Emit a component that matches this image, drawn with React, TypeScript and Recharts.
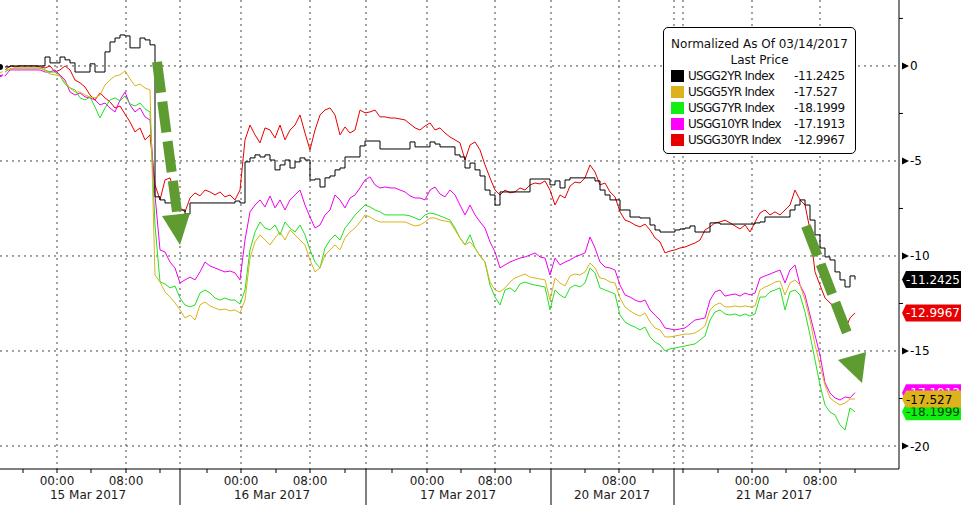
import React from 'react';
import { LineChart, Line, XAxis, YAxis, CartesianGrid, ReferenceDot, Legend } from 'recharts';

const FONT = 'DejaVu Sans';

// Series metadata
const SERIES_KEYS = ['usgg2yr', 'usgg5yr', 'usgg7yr', 'usgg10yr', 'usgg30yr'];
const SERIES_NAMES = ['USGG2YR Index', 'USGG5YR Index', 'USGG7YR Index', 'USGG10YR Index', 'USGG30YR Index'];
const SERIES_COLORS = ['#000000', '#d8b41c', '#22e022', '#ee00ee', '#e80000'];
const SWATCH_COLORS = ['#000000', '#dcb31c', '#11ee11', '#ff00ff', '#e80000'];
const TAG_TEXT_COLORS = ['#ffffff', '#000000', '#004400', '#ffffff', '#ffffff'];

// Normalized values (bp), sampled on the compressed session-time grid
const usgg2yr = [
  -0.05, -0.05, 0, 0, 0, 0, 0, 0, 0, 0.47,
  0.16, 0.16, 0.47, 0.32, 0.16, -0.32, -0.32, -0.32, 0.11, -0.32,
  -0.32, 0.74, 1.26, 1.47, 1.63, 1.58, 0.95, 0.95, 1.47, 1.37,
  1.11, -6.89, -7.05, -7.21, -7.21, -7.21, -7.58, -7.79, -7.21, -7.21,
  -7.21, -7.21, -7.21, -7.21, -7.21, -7.21, -7.21, -7.11, -7.21, -5.05,
  -4.84, -4.68, -4.79, -4.68, -4.95, -5.47, -5.21, -4.95, -5.37, -5.05,
  -4.84, -4.95, -6.0, -5.95, -6.37, -5.89, -5.79, -5.47, -5.37, -4.79,
  -4.79, -4.79, -4.21, -3.95, -3.95, -3.95, -4.37, -4.37, -4.37, -4.37,
  -4.37, -4.37, -4.0, -4.26, -4.26, -4.26, -4.0, -4.11, -4.26, -4.26,
  -4.26, -4.68, -4.79, -5.37, -5.11, -5.47, -5.79, -6.53, -6.79, -7.32,
  -6.63, -6.63, -6.63, -6.63, -6.63, -6.63, -5.95, -5.95, -5.95, -5.95,
  -6.26, -6.05, -6.42, -6.0, -5.89, -5.89, -5.89, -5.89, -5.89, -6.05,
  -6.53, -6.79, -7.05, -7.05, -7.58, -7.58, -7.95, -7.95, -8.0, -8.0,
  -8.37, -8.63, -8.74, -8.74, -8.74, -8.63, -8.58, -8.53, -8.42, -8.74,
  -8.74, -8.74, -8.26, -8.26, -8.32, -8.32, -8.32, -8.32, -8.32, -8.32,
  -8.32, -8.26, -8.21, -7.95, -7.95, -7.95, -7.95, -7.95, -7.58, -7.32,
  -7.05, -7.32, -8.11, -8.89, -9.58, -10.05, -10.21, -10.84, -11.26, -11.63,
  -11.05, -11.2425,
];

const usgg5yr = [
  -0.21, -0.21, -0.16, -0.11, -0.11, -0.11, -0.11, -0.11, -0.11, -0.26,
  -0.42, -0.47, -0.53, -0.84, -1.16, -1.37, -1.37, -1.53, -1.63, -1.68,
  -1.53, -1.0, -0.74, -0.53, -0.47, -0.26, -0.68, -1.05, -0.95, -1.16,
  -1.26, -11.0, -11.37, -11.89, -12.16, -12.47, -12.84, -13.26, -13.11, -13.37,
  -12.58, -12.42, -12.63, -12.74, -12.84, -12.79, -12.89, -12.84, -13.0, -12.32,
  -10.11, -9.26, -8.89, -9.16, -9.42, -9.05, -8.74, -9.16, -8.63, -8.89,
  -9.16, -9.42, -10.21, -10.84, -10.63, -9.95, -9.68, -9.42, -9.68, -9.05,
  -8.74, -8.53, -8.21, -7.84, -7.95, -8.11, -8.21, -8.21, -8.21, -8.21,
  -8.21, -8.21, -8.32, -8.42, -8.37, -8.21, -8.0, -8.0, -8.11, -8.16,
  -8.21, -8.63, -9.05, -9.42, -9.26, -9.58, -10.0, -10.32, -11.37, -11.79,
  -11.89, -11.68, -11.37, -11.16, -11.05, -10.95, -11.11, -11.16, -11.21, -11.26,
  -12.32, -11.16, -11.42, -11.58, -11.05, -10.95, -11.0, -10.84, -10.37, -10.63,
  -11.16, -11.21, -11.37, -11.42, -12.21, -12.68, -12.89, -13.05, -13.16, -13.0,
  -13.47, -13.79, -13.89, -14.26, -14.26, -14.21, -14.16, -14.11, -14.11, -14.05,
  -13.89, -13.68, -12.84, -12.58, -12.47, -12.68, -12.68, -12.63, -12.68, -12.63,
  -12.68, -12.63, -11.79, -11.63, -11.53, -11.37, -11.32, -12.05, -11.42, -11.26,
  -11.53, -12.32, -13.37, -14.68, -15.74, -16.79, -17.47, -17.68, -17.84, -17.74,
  -17.53, -17.527,
];

const usgg7yr = [
  -0.21, -0.32, -0.16, -0.11, -0.11, -0.11, -0.11, -0.11, -0.11, -0.21,
  -0.32, -0.32, -0.53, -0.95, -1.16, -1.26, -1.68, -1.79, -1.63, -2.16,
  -2.74, -2.21, -1.79, -1.68, -1.84, -1.58, -2.0, -2.11, -1.95, -2.26,
  -2.42, -8.37, -11.37, -11.47, -11.68, -11.58, -12.21, -12.58, -12.68, -12.58,
  -11.95, -11.79, -11.95, -12.21, -12.32, -12.21, -12.32, -12.32, -12.53, -11.79,
  -9.68, -8.74, -8.21, -8.53, -8.63, -8.37, -8.89, -8.21, -8.53, -8.74,
  -8.37, -8.89, -9.68, -10.32, -10.63, -9.58, -9.16, -8.89, -9.16, -8.53,
  -8.21, -7.84, -7.58, -7.32, -7.42, -7.58, -7.68, -7.84, -7.84, -7.84,
  -7.84, -7.84, -7.89, -8.0, -8.11, -7.84, -7.74, -7.79, -7.89, -8.0,
  -8.11, -8.53, -9.05, -9.42, -8.89, -9.58, -10.0, -10.32, -11.53, -12.16,
  -12.58, -11.79, -11.68, -11.89, -11.47, -11.37, -11.47, -11.53, -11.58, -11.63,
  -12.84, -11.79, -12.05, -12.21, -11.68, -11.53, -11.63, -11.42, -10.63, -10.89,
  -11.68, -11.79, -11.89, -12.0, -13.11, -13.47, -13.63, -13.74, -13.89, -13.74,
  -14.26, -14.53, -14.68, -15.0, -14.89, -14.84, -14.79, -14.74, -14.68, -14.63,
  -14.42, -14.21, -13.37, -12.95, -12.84, -13.05, -13.11, -13.05, -13.16, -13.05,
  -13.16, -13.05, -12.16, -12.16, -11.89, -11.79, -11.68, -12.84, -11.89, -11.79,
  -12.05, -12.95, -14.16, -15.47, -16.79, -17.84, -18.21, -18.37, -18.89, -19.16,
  -18.0, -18.1999,
];

const usgg10yr = [
  -0.42, -0.53, -0.21, -0.21, -0.21, -0.21, -0.21, -0.21, -0.21, -0.32,
  -0.32, -0.21, -0.47, -0.74, -1.37, -1.53, -1.42, -1.63, -1.68, -1.79,
  -2.05, -1.95, -2.21, -2.42, -1.79, -1.37, -2.05, -2.42, -2.21, -2.68,
  -2.84, -6.79, -9.68, -9.79, -10.32, -10.63, -11.42, -11.26, -11.11, -11.26,
  -10.84, -10.32, -10.53, -10.63, -10.74, -10.84, -10.79, -10.89, -11.26, -9.16,
  -7.68, -7.32, -7.05, -7.42, -6.84, -7.47, -7.05, -7.58, -7.05, -6.79,
  -6.53, -7.32, -7.95, -8.53, -8.37, -7.84, -7.58, -6.79, -7.05, -7.47,
  -6.95, -6.79, -6.42, -6.0, -5.84, -6.26, -6.42, -6.37, -6.42, -6.42,
  -6.53, -6.63, -6.84, -6.95, -6.95, -7.05, -6.53, -6.37, -6.74, -6.89,
  -6.53, -6.79, -7.32, -7.84, -7.32, -7.84, -8.21, -8.53, -9.26, -9.79,
  -10.63, -10.47, -10.32, -10.21, -10.11, -10.05, -9.95, -9.84, -10.05, -10.11,
  -11.0, -10.11, -10.47, -10.32, -10.21, -10.05, -9.95, -9.84, -9.0, -9.58,
  -10.32, -10.58, -10.63, -10.74, -11.53, -12.05, -12.16, -12.32, -12.42, -12.32,
  -12.84, -13.11, -13.37, -13.79, -13.84, -13.89, -13.84, -13.79, -13.58, -13.37,
  -13.32, -13.26, -12.32, -11.89, -11.79, -12.11, -12.05, -12.0, -12.11, -11.95,
  -12.05, -11.95, -11.16, -11.05, -10.95, -10.84, -10.74, -11.42, -10.74, -10.47,
  -11.53, -12.05, -13.11, -14.16, -15.21, -16.68, -17.21, -17.47, -17.58, -17.42,
  -17.47, -17.1913,
];

const usgg30yr = [
  -0.11, -0.21, 0, -0.05, 0, 0, 0, 0, -0.05, -0.11,
  0, -0.32, -0.21, 0, -0.21, -0.74, -0.89, -1.11, -1.53, -1.79,
  -1.42, -1.68, -1.89, -2.21, -2.11, -2.53, -2.95, -3.47, -3.26, -3.89,
  -3.63, -6.26, -7.05, -6.0, -5.89, -6.79, -7.47, -7.68, -6.95, -6.68,
  -6.84, -6.53, -6.63, -6.79, -6.63, -6.89, -6.79, -7.05, -6.53, -3.89,
  -3.11, -3.63, -4.05, -3.26, -3.37, -3.79, -3.11, -3.89, -3.37, -3.11,
  -2.58, -3.53, -4.42, -3.37, -2.58, -2.32, -2.21, -2.58, -3.63, -3.21,
  -3.53, -3.37, -2.32, -2.47, -2.42, -2.32, -2.68, -2.68, -2.74, -2.74,
  -2.79, -2.84, -3.05, -3.26, -3.37, -3.16, -3.0, -3.37, -3.26, -3.53,
  -3.74, -3.89, -4.05, -4.95, -4.16, -4.0, -4.42, -5.21, -5.89, -6.53,
  -6.79, -6.53, -6.68, -6.63, -6.42, -6.53, -6.26, -6.16, -6.21, -6.05,
  -6.53, -7.32, -6.79, -6.95, -6.32, -6.11, -6.16, -5.89, -5.21, -5.58,
  -6.26, -6.16, -6.63, -6.89, -7.68, -8.11, -8.21, -8.37, -8.47, -8.32,
  -8.63, -9.05, -9.26, -9.84, -9.74, -9.68, -9.58, -9.53, -9.42, -9.32,
  -9.16, -8.63, -8.47, -8.26, -8.21, -8.11, -8.26, -8.42, -8.58, -8.37,
  -8.74, -8.21, -7.74, -7.58, -7.84, -7.68, -7.84, -7.58, -7.32, -6.53,
  -7.05, -7.32, -8.63, -10.84, -11.53, -12.21, -12.47, -12.68, -13.47, -13.89,
  -13.26, -12.9967,
];

const LAST_PRICES = ['-11.2425', '-17.527', '-18.1999', '-17.1913', '-12.9967'];

// Time axis (compressed trading-session slots)
const X_DOMAIN: [number, number] = [0, 179.8];
const TIME_TICK_SLOTS = [4.6, 11.4, 18.2, 25.2, 32, 41.4, 48.2, 55.2, 62, 69, 78.4, 85.4, 92.2, 99, 106, 117, 123.8, 130.6, 136.6, 143.6, 150.4, 157.2, 164, 171];
const TIME_LABEL_SLOTS = [11.4, 25.2, 48.2, 62, 85.4, 99, 123.8, 150.4, 164];
const TIME_LABELS = ['00:00', '08:00', '00:00', '08:00', '00:00', '08:00', '08:00', '00:00', '08:00'];
const DAY_SEPARATOR_SLOTS = [36, 73.2, 110.2, 134.8];
const DATE_LABEL_SLOTS = [17.6, 54.4, 91.6, 122.4, 154.8];
const DATE_LABELS = ['15 Mar 2017', '16 Mar 2017', '17 Mar 2017', '20 Mar 2017', '21 Mar 2017'];
const EXTRA_GRID_SLOTS = [136.6];

// Value axis
const Y_DOMAIN: [number, number] = [-21.21, 3.47];
const Y_MAJOR = [0, -5, -10, -15, -20];
const Y_MINOR = [2.5, -2.5, -7.5, -12.5, -17.5];

const data = usgg2yr.map((v, i) => ({
  slot: i,
  usgg2yr: v,
  usgg5yr: usgg5yr[i],
  usgg7yr: usgg7yr[i],
  usgg10yr: usgg10yr[i],
  usgg30yr: usgg30yr[i],
}));

const lastIdx = data.length - 1;
const LAST_VALUES = SERIES_KEYS.map((k) => (data[lastIdx] as any)[k] as number);
// tag draw order: 2y, 30y, 10y, 7y, 5y (5y on top)
const TAG_ORDER = [0, 4, 3, 2, 1];

const xTicks = Array.from(new Set([...TIME_TICK_SLOTS, ...DAY_SEPARATOR_SLOTS, ...DATE_LABEL_SLOTS]));
const yTicks = [...Y_MAJOR, ...Y_MINOR, ...TAG_ORDER.map((i) => LAST_VALUES[i])];
const verticalGrid = [...TIME_LABEL_SLOTS, ...DAY_SEPARATOR_SLOTS, ...EXTRA_GRID_SLOTS];

const XTick = (props: any) => {
  const { x, y, payload } = props;
  const v = payload.value;
  const parts: any[] = [];
  if (TIME_TICK_SLOTS.includes(v)) {
    parts.push(<line key="t" x1={x} y1={y} x2={x} y2={y + 4} stroke="#000" strokeWidth={1} />);
  }
  const li = TIME_LABEL_SLOTS.indexOf(v);
  if (li >= 0) {
    parts.push(
      <text key="l" x={x} y={y + 15.5} textAnchor="middle" fontFamily={FONT} fontSize={12} fill="#1a1a1a">
        {TIME_LABELS[li]}
      </text>
    );
  }
  if (DAY_SEPARATOR_SLOTS.includes(v)) {
    parts.push(<line key="s" x1={x} y1={y} x2={x} y2={y + 40} stroke="#000" strokeWidth={1} />);
  }
  const di = DATE_LABEL_SLOTS.indexOf(v);
  if (di >= 0) {
    parts.push(
      <text key="d" x={x} y={y + 29.5} textAnchor="middle" fontFamily={FONT} fontSize={12} fill="#1a1a1a">
        {DATE_LABELS[di]}
      </text>
    );
  }
  return <g>{parts}</g>;
};

const YTick = (props: any) => {
  const { x, y, payload } = props;
  const v = payload.value;
  if (Y_MAJOR.includes(v)) {
    return (
      <g>
        <polygon points={`${x + 3},${y - 3.5} ${x + 10},${y} ${x + 3},${y + 3.5}`} fill="#000" />
        <text x={x + 11} y={y + 4.5} fontFamily={FONT} fontSize={12} fill="#000">
          {v}
        </text>
      </g>
    );
  }
  if (Y_MINOR.includes(v)) {
    return <line x1={x} y1={y} x2={x + 4} y2={y} stroke="#000" strokeWidth={1} />;
  }
  const si = LAST_VALUES.indexOf(v);
  if (si >= 0) {
    const h = 8.5;
    return (
      <g>
        <path
          d={`M${x + 3},${y} L${x + 7},${y - h} L${x + 64},${y - h} L${x + 64},${y + h} L${x + 7},${y + h} Z`}
          fill={SWATCH_COLORS[si]}
        />
        <text x={x + 7} y={y + 4.5} fontFamily={FONT} fontSize={12} fill={TAG_TEXT_COLORS[si]}>
          {LAST_PRICES[si]}
        </text>
      </g>
    );
  }
  return <g />;
};

const LegendBox = () => (
  <div
    style={{
      boxSizing: 'border-box',
      width: 193,
      height: 127,
      border: '1px solid #000',
      borderRadius: 5,
      background: '#fff',
      fontFamily: FONT,
      fontSize: 12,
      color: '#111',
      padding: '8px 0 0 7px',
      lineHeight: '16px',
    }}
  >
    <div style={{ textAlign: 'center', marginLeft: -7 }}>Normalized As Of 03/14/2017</div>
    <div style={{ textAlign: 'center', marginLeft: -7 }}>Last Price</div>
    {SERIES_NAMES.map((n, i) => (
      <div key={n} style={{ display: 'flex', alignItems: 'center', height: 16 }}>
        <span style={{ display: 'inline-block', flex: 'none', width: 13, height: 12, background: SWATCH_COLORS[i], marginRight: 4 }} />
        <span style={{ flex: 'none', width: 106, whiteSpace: 'nowrap', letterSpacing: '-0.7px' }}>{n}</span>
        <span style={{ flex: 'none', whiteSpace: 'nowrap', letterSpacing: '-0.4px' }}>{LAST_PRICES[i]}</span>
      </div>
    ))}
  </div>
);

const ARROW = '#5e9b30';

const Arrow1 = (props: any) => {
  const { cx, cy } = props;
  return (
    <g>
      <line x1={cx - 23} y1={cy - 183} x2={cx - 3} y2={cy - 33} stroke={ARROW} strokeWidth={10} strokeDasharray="31 9" />
      <polygon points={`${cx - 18},${cy - 29} ${cx + 10},${cy - 32} ${cx},${cy}`} fill={ARROW} />
    </g>
  );
};

const Arrow2 = (props: any) => {
  const { cx, cy } = props;
  return (
    <g>
      <line x1={cx - 56} y1={cy - 157} x2={cx - 15} y2={cy - 50} stroke={ARROW} strokeWidth={10} strokeDasharray="32 9" />
      <polygon points={`${cx - 24},${cy - 23} ${cx + 4},${cy - 31} ${cx},${cy}`} fill={ARROW} />
    </g>
  );
};

export default function App() {
  return (
    <div style={{ position: 'absolute', left: 0, top: 0, width: 961, height: 505, background: '#fff' }}>
      <LineChart width={961} height={505} data={data} margin={{ top: 0, right: 0, bottom: 0, left: 0 }}>
        <CartesianGrid
          stroke="#444"
          strokeDasharray="2 4"
          horizontalValues={Y_MAJOR}
          verticalValues={verticalGrid}
        />
        <XAxis
          dataKey="slot"
          type="number"
          domain={X_DOMAIN}
          allowDataOverflow
          ticks={xTicks}
          interval={0}
          tick={<XTick />}
          tickLine={false}
          tickSize={0}
          tickMargin={0}
          axisLine={{ stroke: '#000' }}
          height={36}
        />
        <YAxis
          orientation="right"
          type="number"
          domain={Y_DOMAIN}
          allowDataOverflow
          ticks={yTicks}
          interval={0}
          tick={<YTick />}
          tickLine={false}
          tickSize={0}
          tickMargin={0}
          axisLine={{ stroke: '#000' }}
          width={62}
        />
        <Line dataKey="usgg30yr" stroke={SERIES_COLORS[4]} strokeWidth={1} dot={false} isAnimationActive={false} type="linear" />
        <Line dataKey="usgg10yr" stroke={SERIES_COLORS[3]} strokeWidth={1} dot={false} isAnimationActive={false} type="linear" />
        <Line dataKey="usgg7yr" stroke={SERIES_COLORS[2]} strokeWidth={1} dot={false} isAnimationActive={false} type="linear" />
        <Line dataKey="usgg5yr" stroke={SERIES_COLORS[1]} strokeWidth={1} dot={false} isAnimationActive={false} type="linear" />
        <Line dataKey="usgg2yr" stroke={SERIES_COLORS[0]} strokeWidth={1} dot={false} isAnimationActive={false} type="stepAfter" />
        <ReferenceDot x={36} y={-9.42} r={0} shape={<Arrow1 />} ifOverflow="visible" />
        <ReferenceDot x={172.4} y={-16.68} r={0} shape={<Arrow2 />} ifOverflow="visible" />
        <Legend
          content={<LegendBox />}
          layout="horizontal"
          verticalAlign="middle"
          align="center"
          wrapperStyle={{ left: 663, top: 27, width: 193, height: 127 }}
        />
      </LineChart>
    </div>
  );
}
